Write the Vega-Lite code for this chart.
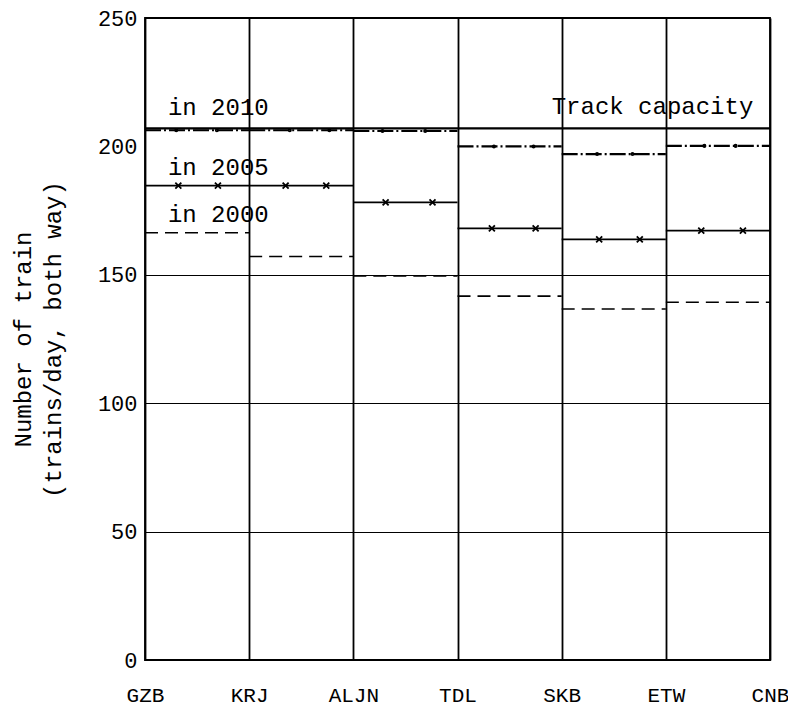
{
  "$schema": "https://vega.github.io/schema/vega-lite/v6.json",
  "width": 625,
  "height": 642,
  "padding": {"left": 145, "top": 18, "right": 18, "bottom": 47},
  "autosize": "none",
  "background": "white",
  "config": {
    "view": {"stroke": "black", "strokeWidth": 1.8},
    "font": "Liberation Mono"
  },
  "datasets": {
    "segments": [
      {"series": "Track capacity", "from": 0, "to": 6, "value": 207},
      {"series": "2010", "from": 0, "to": 1, "value": 206.3},
      {"series": "2010", "from": 1, "to": 2, "value": 206.3},
      {"series": "2010", "from": 2, "to": 3, "value": 206},
      {"series": "2010", "from": 3, "to": 4, "value": 200},
      {"series": "2010", "from": 4, "to": 5, "value": 197},
      {"series": "2010", "from": 5, "to": 6, "value": 200.2},
      {"series": "2005", "from": 0, "to": 1, "value": 184.7},
      {"series": "2005", "from": 1, "to": 2, "value": 184.7},
      {"series": "2005", "from": 2, "to": 3, "value": 178.2},
      {"series": "2005", "from": 3, "to": 4, "value": 168.1},
      {"series": "2005", "from": 4, "to": 5, "value": 163.8},
      {"series": "2005", "from": 5, "to": 6, "value": 167.2},
      {"series": "2000", "from": 0, "to": 1, "value": 166.4},
      {"series": "2000", "from": 1, "to": 2, "value": 157.1},
      {"series": "2000", "from": 2, "to": 3, "value": 149.6},
      {"series": "2000", "from": 3, "to": 4, "value": 141.7},
      {"series": "2000", "from": 4, "to": 5, "value": 136.7},
      {"series": "2000", "from": 5, "to": 6, "value": 139.3}
    ],
    "markers": [
      {"series": "2005", "pos": 0.32, "value": 184.7},
      {"series": "2005", "pos": 0.7, "value": 184.7},
      {"series": "2005", "pos": 1.35, "value": 184.7},
      {"series": "2005", "pos": 1.74, "value": 184.7},
      {"series": "2005", "pos": 2.31, "value": 178.2},
      {"series": "2005", "pos": 2.76, "value": 178.2},
      {"series": "2005", "pos": 3.33, "value": 168.1},
      {"series": "2005", "pos": 3.75, "value": 168.1},
      {"series": "2005", "pos": 4.36, "value": 163.8},
      {"series": "2005", "pos": 4.75, "value": 163.8},
      {"series": "2005", "pos": 5.34, "value": 167.2},
      {"series": "2005", "pos": 5.74, "value": 167.2},
      {"series": "2010", "pos": 0.3, "value": 206.3},
      {"series": "2010", "pos": 0.69, "value": 206.3},
      {"series": "2010", "pos": 1.39, "value": 206.3},
      {"series": "2010", "pos": 1.77, "value": 206.3},
      {"series": "2010", "pos": 2.28, "value": 206},
      {"series": "2010", "pos": 2.69, "value": 206},
      {"series": "2010", "pos": 3.35, "value": 200},
      {"series": "2010", "pos": 3.73, "value": 200},
      {"series": "2010", "pos": 4.34, "value": 197},
      {"series": "2010", "pos": 4.68, "value": 197},
      {"series": "2010", "pos": 5.37, "value": 200.2},
      {"series": "2010", "pos": 5.67, "value": 200.2}
    ],
    "leftLabels": [
      {"text": "in 2010", "pos": 0.22, "value": 215},
      {"text": "in 2005", "pos": 0.22, "value": 191.6},
      {"text": "in 2000", "pos": 0.22, "value": 173.3}
    ],
    "rightLabels": [
      {"text": "Track capacity", "pos": 5.84, "value": 215.3}
    ]
  },
  "layer": [
    {
      "data": {"name": "segments"},
      "mark": {"type": "rule", "color": "black"},
      "encoding": {
        "x": {
          "field": "from",
          "type": "quantitative",
          "scale": {"domain": [0, 6], "nice": false, "zero": false},
          "axis": {
            "values": [0, 1, 2, 3, 4, 5, 6],
            "labelExpr": "['GZB','KRJ','ALJN','TDL','SKB','ETW','CNB'][datum.value]",
            "title": null,
            "domain": false,
            "ticks": false,
            "grid": true,
            "gridColor": "black",
            "gridWidth": 1.8,
            "gridOpacity": 1,
            "labelPadding": 24,
            "labelFontSize": 21,
            "labelFont": "Liberation Mono",
            "labelColor": "black",
            "labelBaseline": "top",
            "labelFlush": false,
            "labelOverlap": false
          }
        },
        "x2": {"field": "to"},
        "y": {
          "field": "value",
          "type": "quantitative",
          "scale": {"domain": [0, 250], "nice": false},
          "axis": {
            "values": [0, 50, 100, 150, 200, 250],
            "title": ["Number of train", "(trains/day, both way)"],
            "titleFont": "Liberation Mono",
            "titleFontSize": 24,
            "titleFontWeight": "normal",
            "titleColor": "black",
            "titleLineHeight": 30,
            "titlePadding": 32,
            "domain": false,
            "ticks": false,
            "grid": true,
            "gridColor": "black",
            "gridWidth": 1.2,
            "gridOpacity": {"condition": {"test": "datum.value >= 200", "value": 0}, "value": 1},
            "labelFontSize": 22,
            "labelFont": "Liberation Mono",
            "labelColor": "black",
            "labelPadding": 8,
            "labelFlush": false,
            "labelOverlap": false
          }
        },
        "strokeDash": {
          "field": "series",
          "type": "nominal",
          "scale": {
            "domain": ["Track capacity", "2010", "2005", "2000"],
            "range": [[1, 0], [16, 3, 2, 3], [1, 0], [13, 7]]
          },
          "legend": null
        },
        "strokeWidth": {
          "field": "series",
          "type": "nominal",
          "scale": {
            "domain": ["Track capacity", "2010", "2005", "2000"],
            "range": [2.4, 1.6, 1.4, 1.6]
          },
          "legend": null
        }
      }
    },
    {
      "data": {"name": "markers"},
      "mark": {"type": "point", "filled": false, "color": "black", "strokeWidth": 1.8, "opacity": 1},
      "encoding": {
        "x": {"field": "pos", "type": "quantitative"},
        "y": {"field": "value", "type": "quantitative"},
        "shape": {
          "field": "series",
          "type": "nominal",
          "scale": {
            "domain": ["2005", "2010"],
            "range": ["M-1,-1L1,1M-1,1L1,-1", "circle"]
          },
          "legend": null
        },
        "size": {
          "field": "series",
          "type": "nominal",
          "scale": {"domain": ["2005", "2010"], "range": [36, 5]},
          "legend": null
        }
      }
    },
    {
      "data": {"name": "leftLabels"},
      "mark": {"type": "text", "font": "Liberation Mono", "fontSize": 24, "color": "black", "baseline": "middle", "align": "left"},
      "encoding": {
        "x": {"field": "pos", "type": "quantitative"},
        "y": {"field": "value", "type": "quantitative"},
        "text": {"field": "text"}
      }
    },
    {
      "data": {"name": "rightLabels"},
      "mark": {"type": "text", "font": "Liberation Mono", "fontSize": 24, "color": "black", "baseline": "middle", "align": "right"},
      "encoding": {
        "x": {"field": "pos", "type": "quantitative"},
        "y": {"field": "value", "type": "quantitative"},
        "text": {"field": "text"}
      }
    }
  ]
}
